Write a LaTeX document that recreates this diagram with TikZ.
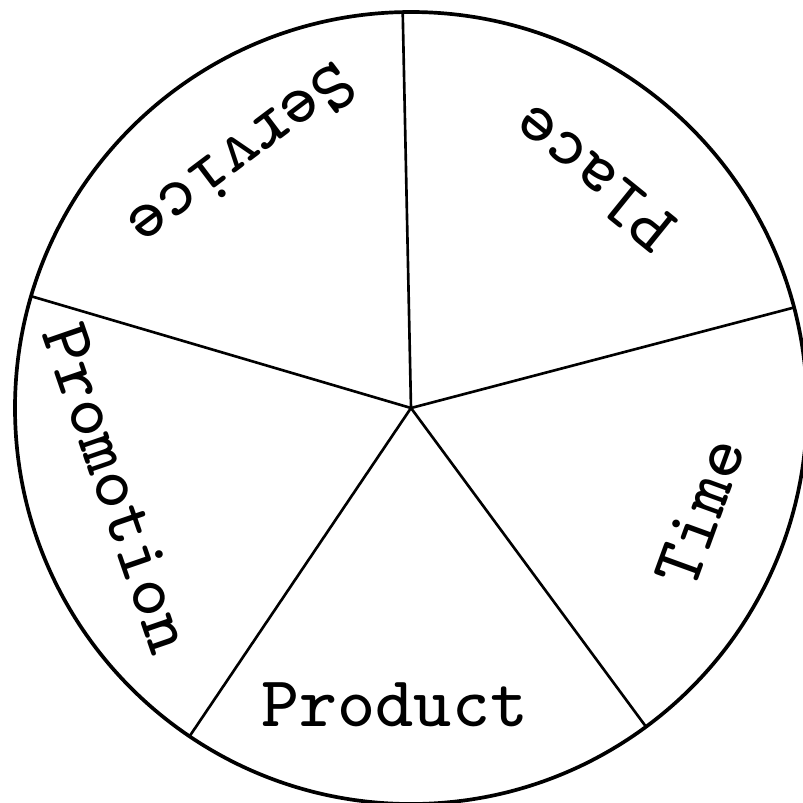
\documentclass[tikz,border=0pt]{standalone}
\usepackage{fontspec}
\setmonofont{lmmono8-regular.otf}
\usepackage{tikz}

\begin{document}
\begin{tikzpicture}[thick,
		sector/.style={font=\ttfamily\fontsize{40.8}{48}\selectfont, inner sep=0pt},
		spoke/.style={line width=1.5pt}]
		
		% Frame
		\useasboundingbox (-8.22,-7.88) rectangle (7.84,8.16);
		\clip (-8.22,-7.88) rectangle (7.84,8.16);
		
		% Wheel
		\coordinate (O) at (0,0);
		\draw[line width=2.1pt] (O) circle (7.92);
		
		% Spokes
		\foreach \a/\n in {91.2/top,14.7/right,-53.6/lowright,-124/lowleft,163.6/left}
		\coordinate (\n) at (\a:7.92);
		
		\foreach \n in {top,right,lowright,lowleft,left}
		\draw[spoke] (O) -- (\n);
		
		% Labels
		\node[sector] (product) at (-93.1:5.94) {Product};
		\node[sector, rotate=70] (time) at (-19.8:6.14) {Time};
		\node[sector, rotate=141] (place) at (51.6:5.87) {Place};
		\node[sector, rotate=-143] (service) at (123.9:6.05) {Service};
		\node[sector, rotate=-71] (promotion) at (-164.7:6.08) {Promotion};
		
	\end{tikzpicture}
\end{document}
